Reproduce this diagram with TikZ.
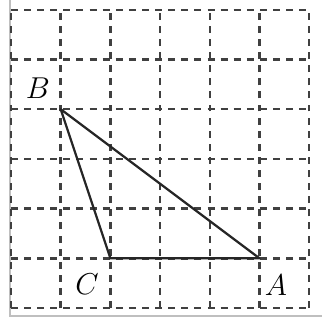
\documentclass[tikz,border=0pt]{standalone}
\usepackage{tikz}
\usetikzlibrary{positioning}

\begin{document}
\begin{tikzpicture}[x=1cm, y=1cm, gridline/.style={line width=1.4pt, dash pattern=on 4pt off 3.5pt, black!75}, side/.style={line width=1.3pt, black!85}, vertex/.style={font=\fontsize{19}{20}\selectfont, inner sep=0pt}]
    \useasboundingbox (-0.221,-0.262) rectangle (6.257,6.197);
    \draw[black!25, line width=0.6pt] (-0.02,6.197) -- (-0.02,-0.16) -- (6.257,-0.16);
    \foreach \i in {0,...,6} {
      \draw[gridline] (\i,0) -- (\i,6);
      \draw[gridline] (0,\i) -- (6,\i);
    }
    \coordinate (B) at (1,4);
    \coordinate (C) at (2,1);
    \coordinate (A) at (5,1);
    \draw[side, line join=round] (B) -- (C) -- (A) -- cycle;
    \node[vertex] (lb) at (0.54,4.43) {$B$};
    \node[vertex] (lc) at (1.53,0.48) {$C$};
    \node[vertex] (la) at (5.33,0.46) {$A$};
  \end{tikzpicture}
\end{document}
